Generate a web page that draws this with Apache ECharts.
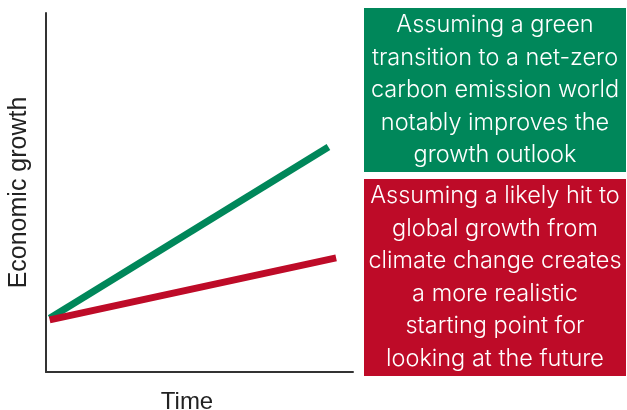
<!DOCTYPE html>
<html>
<head>
<meta charset="utf-8">
<script src="https://cdn.jsdelivr.net/npm/echarts@6/dist/echarts.min.js"></script>
<style>
    html, body { margin: 0; padding: 0; background: #fff; }
    #chart { width: 627px; height: 410px; }
</style>
</head>
<body>
<div id="chart"></div>
<script>
    // 两条情景线: [时间, 经济增长]
    const greenLine = [[0.12, 1.5], [9.2, 6.27]]
    const redLine = [[0.12, 1.45], [9.45, 3.18]]
    // 右侧说明文字
    const greenText = ['Assuming a green', 'transition to a net-zero', 'carbon emission world', 'notably improves the', 'growth outlook']
    const redText = ['Assuming a likely hit to', 'global growth from', 'climate change creates', 'a more realistic', 'starting point for', 'looking at the future']

    const GREEN = '#00875A'
    const RED = '#BE0B28'

    const chart = echarts.init(document.getElementById('chart'))
    const option = {
        animation: false,
        grid: { left: 46, right: 274, top: 13, bottom: 38, outerBoundsMode: 'none' },
        xAxis: {
            type: 'value', min: 0, max: 10,
            name: 'Time', nameLocation: 'middle', nameGap: 18,
            nameTextStyle: { fontFamily: 'Liberation Sans', fontSize: 24, color: '#222', padding: [0, 25, 0, 0] },
            axisLine: { show: true, lineStyle: { color: '#333', width: 2 } },
            axisTick: { show: false }, axisLabel: { show: false }, splitLine: { show: false }
        },
        yAxis: {
            type: 'value', min: 0, max: 10,
            name: 'Economic growth', nameLocation: 'middle', nameGap: 14,
            nameTextStyle: { fontFamily: 'Liberation Sans', fontSize: 25, color: '#222' },
            axisLine: { show: true, lineStyle: { color: '#333', width: 2 } },
            axisTick: { show: false }, axisLabel: { show: false }, splitLine: { show: false }
        },
        series: [
            { type: 'line', data: greenLine, symbol: 'none', lineStyle: { color: GREEN, width: 7 } },
            { type: 'line', data: redLine, symbol: 'none', lineStyle: { color: RED, width: 7 } }
        ],
        graphic: [
            { type: 'rect', shape: { x: 364, y: 8, width: 262, height: 164 }, style: { fill: GREEN } },
            {
                type: 'text', x: 495, y: 90,
                style: {
                    text: greenText.join('\n'), fill: '#fff', align: 'center', verticalAlign: 'middle',
                    font: '300 23.5px Inter', lineHeight: 32.5
                }
            },
            { type: 'rect', shape: { x: 364, y: 179, width: 262, height: 197 }, style: { fill: RED } },
            {
                type: 'text', x: 495, y: 277.5,
                style: {
                    text: redText.join('\n'), fill: '#fff', align: 'center', verticalAlign: 'middle',
                    font: '300 23.5px Inter', lineHeight: 32.5
                }
            }
        ]
    }
    chart.setOption(option)
</script>
</body>
</html>
